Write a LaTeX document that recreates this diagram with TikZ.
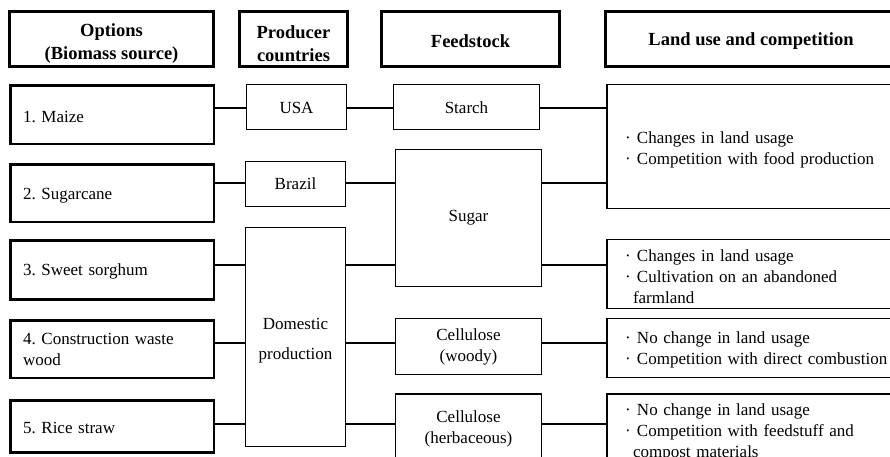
\documentclass[tikz,border=0pt]{standalone}
\usepackage{fontspec}
\setmainfont{Liberation Serif}
\frenchspacing
\newcommand\lbul{\makebox[12pt][l]{·}}
\newcommand\hs[1]{\rule{0pt}{#1}}
\begin{document}
\begin{tikzpicture}[x=1pt,y=-1pt,
  hdr/.style={draw, line width=3.5pt, font=\fontsize{18.5}{23}\selectfont\bfseries, align=center, inner sep=0pt},
  opt/.style={draw, line width=2.5pt, font=\fontsize{17}{21}\selectfont, align=left, inner xsep=12.75pt, inner ysep=0pt, text width=178pt, minimum width=203.5pt},
  thin/.style={draw, line width=1.2pt, font=\fontsize{17}{21}\selectfont, align=center, inner sep=0pt},
  land/.style={thin, align=left, inner xsep=18pt, inner ysep=0pt, text width=277pt, minimum width=313pt},
  link/.style={line width=2pt}]
\useasboundingbox (0,0) rectangle (890,456);
\clip (0,0) rectangle (890,456);
% headers
\node[hdr, minimum width=204pt, minimum height=55pt] (h1) at (111.5,39) {\hs{22pt}Options\\(Biomass source)};
\node[hdr, minimum width=108pt, minimum height=55pt] (h2) at (293.5,39) {\hs{22pt}Producer\\countries};
\node[hdr, minimum width=178pt, minimum height=55pt] (h3) at (470.5,39) {\hs{16.5pt}Feedstock};
\node[hdr, minimum width=291.5pt, minimum height=55pt] (h4) at (751,39) {\hs{17pt}Land use and competition};
% options
\node[opt, minimum height=58.5pt] (o1) at (112,114.5) {\hs{16pt}1. Maize};
\node[opt, minimum height=57.5pt] (o2) at (112,193) {\hs{16pt}2. Sugarcane};
\node[opt, minimum height=59pt] (o3) at (112,270) {\hs{15pt}3. Sweet sorghum};
\node[opt, minimum height=57.5pt] (o4) at (112,349) {4. Construction waste\\wood};
\node[opt, minimum height=52pt] (o5) at (112,426.5) {\hs{15pt}5. Rice straw};
% producers
\node[thin, minimum width=100pt, minimum height=45pt] (usa) at (296.5,107) {\hs{14pt}USA};
\node[thin, minimum width=100pt, minimum height=45pt] (bra) at (295.5,184) {Brazil};
\node[thin, minimum width=100pt, minimum height=219pt] (dom) at (295.5,337) {\hs{19pt}Domestic\\[9pt]production};
% feedstock
\node[thin, minimum width=146pt, minimum height=45pt] (sta) at (466.5,107) {\hs{14pt}Starch};
\node[thin, minimum width=146pt, minimum height=137pt] (sug) at (468.5,218) {Sugar};
\node[thin, minimum width=146pt, minimum height=56pt] (woo) at (468.5,346.5) {Cellulose\\(woody)};
\node[thin, minimum width=146pt, minimum height=70pt] (her) at (468.5,429) {Cellulose\\(herbaceous)};
% land use
\node[land, minimum height=124pt] (l1) at (763.5,146.5) {\hs{18pt}\lbul Changes in land usage\\\lbul Competition with food production};
\node[land, minimum height=69pt] (l2) at (763.5,274) {\hs{18pt}\lbul Changes in land usage\\\lbul Cultivation on an abandoned\\\hspace*{8pt}farmland};
\node[land, minimum height=59pt] (l3) at (763.5,348) {\hs{15pt}\lbul No change in land usage\\\lbul Competition with direct combustion};
\node[land, minimum height=72pt] (l4) at (763.5,430) {\hs{16pt}\lbul No change in land usage\\\lbul Competition with feedstuff and\\\hspace*{8pt}compost materials};
% row levels
\coordinate (r1) at (0,108);
\coordinate (r2) at (0,183);
\coordinate (r3) at (0,265);
\coordinate (r4) at (0,343);
\coordinate (r5) at (0,424);
% connectors
\draw[link] (o1.east |- r1) -- (usa.west |- r1);
\draw[link] (usa.east |- r1) -- (sta.west |- r1);
\draw[link] (sta.east |- r1) -- (l1.west |- r1);
\draw[link] (o2.east |- r2) -- (bra.west |- r2);
\draw[link] (bra.east |- r2) -- (sug.west |- r2);
\draw[link] (sug.east |- r2) -- (l1.west |- r2);
\draw[link] (o3.east |- r3) -- (dom.west |- r3);
\draw[link] (dom.east |- r3) -- (sug.west |- r3);
\draw[link] (sug.east |- r3) -- (l2.west |- r3);
\draw[link] (o4.east |- r4) -- (dom.west |- r4);
\draw[link] (dom.east |- r4) -- (woo.west |- r4);
\draw[link] (woo.east |- r4) -- (l3.west |- r4);
\draw[link] (o5.east |- r5) -- (dom.west |- r5);
\draw[link] (dom.east |- r5) -- (her.west |- r5);
\draw[link] (her.east |- r5) -- (l4.west |- r5);
\end{tikzpicture}
\end{document}
